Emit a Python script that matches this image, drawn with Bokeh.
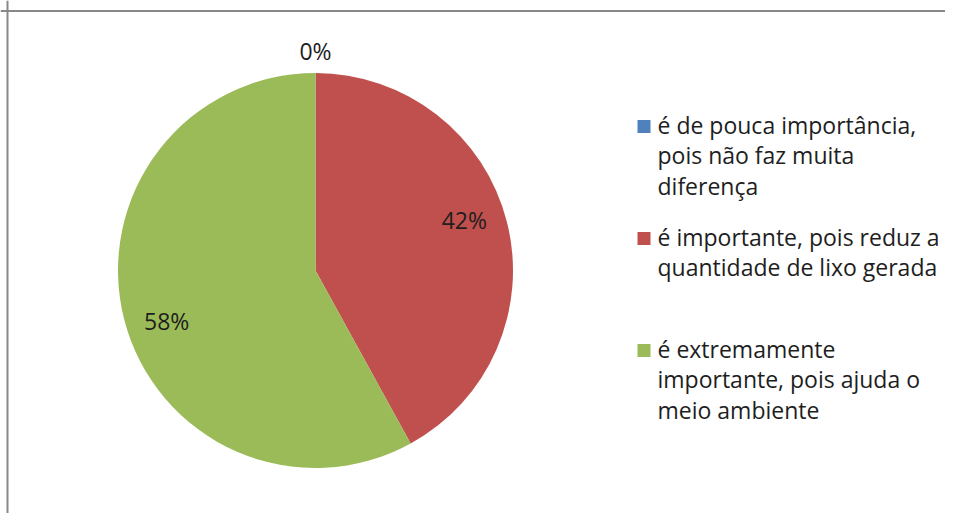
import numpy as np
from bokeh.plotting import figure
from bokeh.models import Range1d, Span, ColumnDataSource
from bokeh.core.properties import value
from bokeh.embed import file_html
from bokeh.resources import INLINE

# ---------------- data ----------------
legend_lines = [
    ["é de pouca importância,", "pois não faz muita", "diferença"],
    ["é importante, pois reduz a", "quantidade de lixo gerada"],
    ["é extremamente", "importante, pois ajuda o", "meio ambiente"],
]
categories = [" ".join(l) for l in legend_lines]
shares = [0, 42, 58]
colors = ["#4F81BD", "#C0504D", "#9BBB59"]

# ---------------- layout (screen pixels) ----------------
W, H = 945, 513
FONT = "Open Sans"
FS = "23px"
TXT = "#1e1e1e"

def ydata(py):
    return H - py

CX, CY, R = 315.0, 270.0, 197.5

p = figure(width=W, height=H, output_backend="svg", toolbar_location=None,
           x_range=Range1d(0, W), y_range=Range1d(0, H),
           min_border=0, min_border_left=0, min_border_right=0,
           min_border_top=0, min_border_bottom=0)
p.axis.visible = False
p.grid.visible = False
p.outline_line_color = None
p.background_fill_color = "white"
p.border_fill_color = "white"

# frame (left + top edges visible in the reference)
p.add_layout(Span(location=7, dimension="height", line_color="#888888", line_width=2))
p.add_layout(Span(location=ydata(10.5), dimension="width", line_color="#888888", line_width=2))

# ---------------- pie ----------------
vals = np.array(shares, dtype=float)
frac = vals / vals.sum()
end_cw = np.cumsum(frac)
start_cw = end_cw - frac
start_angle = np.pi / 2 - 2 * np.pi * end_cw
end_angle = np.pi / 2 - 2 * np.pi * start_cw

keep = vals > 0
src = ColumnDataSource(dict(
    x=[CX] * int(keep.sum()), y=[ydata(CY)] * int(keep.sum()),
    sa=start_angle[keep], ea=end_angle[keep],
    color=[c for c, k in zip(colors, keep) if k]))
p.wedge(x="x", y="y", radius=R, start_angle="sa", end_angle="ea",
        fill_color="color", line_color=None, source=src)

# percent labels
lx, ly, lt = [], [], []
for f, s, v in zip(frac, start_cw, shares):
    mid = (s + f / 2) * 2 * np.pi
    if v == 0:
        r, off = R + 22.0, 0.0
    else:
        r, off = 157.0, np.deg2rad(-4.2)
    th = mid + off
    lx.append(CX + r * np.sin(th))
    ly.append(ydata(CY - r * np.cos(th)))
    lt.append(f"{v:.0f}%")
p.text(x=lx, y=ly, text=lt, text_align="center", text_baseline="middle",
       text_font=value(FONT), text_font_size=FS, text_color=TXT)

# ---------------- legend ----------------
SQ_X, TX_X = 643.5, 657.0
ENTRY_Y0, ENTRY_STEP, LINE_STEP = 124.0, 112.0, 30.7
sqx, sqy, tx, ty, tt = [], [], [], [], []
for i, lines in enumerate(legend_lines):
    y0 = ENTRY_Y0 + i * ENTRY_STEP
    sqx.append(SQ_X)
    sqy.append(ydata(y0 + 2.0))
    for j, line in enumerate(lines):
        tx.append(TX_X)
        ty.append(ydata(y0 + j * LINE_STEP))
        tt.append(line)
p.scatter(x=sqx, y=sqy, marker="square", size=13, fill_color=colors, line_color=None)
p.text(x=tx, y=ty, text=tt, text_align="left", text_baseline="middle",
       text_font=value(FONT), text_font_size=FS, text_color=TXT)

open("out.html", "w").write(file_html(p, INLINE))
